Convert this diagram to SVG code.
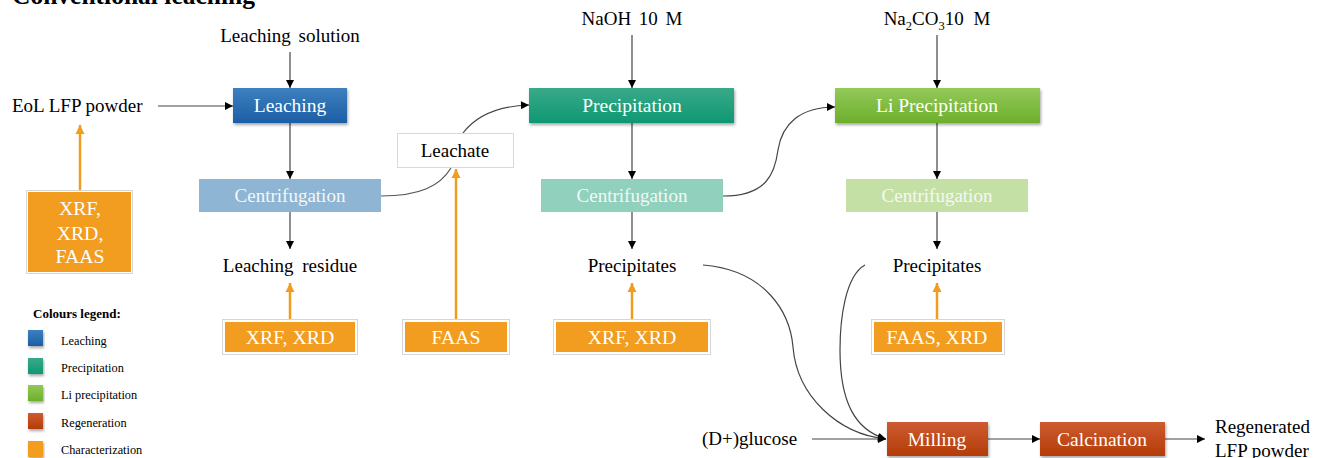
<svg xmlns="http://www.w3.org/2000/svg" width="1317" height="458" viewBox="0 0 1317 458">
  <defs>
    <linearGradient id="gLeach" x1="0" y1="0" x2="0" y2="1">
      <stop offset="0" stop-color="#3d80bf"/>
      <stop offset="1" stop-color="#1c5ea5"/>
    </linearGradient>
    <linearGradient id="gPrec" x1="0" y1="0" x2="0" y2="1">
      <stop offset="0" stop-color="#3aa98a"/>
      <stop offset="1" stop-color="#0e9872"/>
    </linearGradient>
    <linearGradient id="gLi" x1="0" y1="0" x2="0" y2="1">
      <stop offset="0" stop-color="#93c95a"/>
      <stop offset="1" stop-color="#6daf2b"/>
    </linearGradient>
    <linearGradient id="gRegen" x1="0" y1="0" x2="0" y2="1">
      <stop offset="0" stop-color="#cd5b31"/>
      <stop offset="1" stop-color="#b43c08"/>
    </linearGradient>
    <filter id="shadow" x="-10%" y="-20%" width="120%" height="160%">
      <feDropShadow dx="1" dy="2" stdDeviation="1.5" flood-color="#000" flood-opacity="0.35"/>
    </filter>
    <marker id="arrow" markerWidth="10" markerHeight="10" refX="9" refY="5" orient="auto" markerUnits="userSpaceOnUse">
      <path d="M1,1 L9,5 L1,9 Z" fill="#000"/>
    </marker>
    <marker id="arrowOr" markerWidth="12" markerHeight="12" refX="10" refY="6" orient="auto" markerUnits="userSpaceOnUse">
      <path d="M1,1.5 L10,6 L1,10.5 Z" fill="#f09c1e"/>
    </marker>
  </defs>
  <style>
    text { font-family: "Liberation Serif", "Times New Roman", serif; }
    .lbl { font-size: 19px; fill: #000; text-anchor: middle; }
    .lbl-l { font-size: 19px; fill: #000; }
    .box-t { font-size: 19.5px; fill: #fff; text-anchor: middle; }
    .cen-t { font-size: 19px; fill: #f4f8f6; text-anchor: middle; }
    .chr-t { font-size: 19.8px; fill: #fff; text-anchor: middle; }
    .orange { fill: #f29d1f; }
    .orange-frame { fill: #fff; stroke: #d6d6d6; stroke-width: 1; }
    .flow { fill: none; stroke: #444; stroke-width: 1.2; marker-end: url(#arrow); }
    .curve { fill: none; stroke: #555; stroke-width: 1.2; }
    .char { fill: none; stroke: #f09c1e; stroke-width: 2.5; marker-end: url(#arrowOr); }
    .leg-t { font-size: 12.3px; fill: #000; }
  </style>

  <rect width="1317" height="458" fill="#fff"/>

  <!-- title -->
  <text x="12" y="4" font-size="25.5" font-weight="bold">Conventional leaching</text>

  <!-- connectors -->
  <g id="connectors">
    <line class="flow" x1="290" y1="52" x2="290" y2="88"/>
    <line class="flow" x1="158" y1="106" x2="233" y2="106"/>
    <line class="flow" x1="290" y1="123" x2="290" y2="179"/>
    <line class="flow" x1="290" y1="212" x2="290" y2="249"/>
    <path class="curve" d="M381,196 C420,196 440,186 451,168"/>
    <path class="flow" d="M463,133 C476,116 498,106 529,105"/>
    <line class="flow" x1="632" y1="35" x2="632" y2="88"/>
    <line class="flow" x1="632" y1="123" x2="632" y2="179"/>
    <line class="flow" x1="632" y1="212" x2="632" y2="249"/>
    <path class="flow" d="M723,196 C768,196 775,172 778,150 C782,124 800,107 835,107"/>
    <line class="flow" x1="937" y1="35" x2="937" y2="88"/>
    <line class="flow" x1="937" y1="123" x2="937" y2="179"/>
    <line class="flow" x1="937" y1="212" x2="937" y2="249"/>
    <path class="flow" d="M703,265 C765,270 790,312 793,347 C797,396 838,434 886,439"/>
    <path class="flow" d="M865,265 C845,276 840,320 840,350 C840,402 855,430 886,439"/>
    <line class="flow" x1="812" y1="439" x2="886" y2="439"/>
    <line class="flow" x1="988" y1="439" x2="1040" y2="439"/>
    <line class="flow" x1="1165" y1="439" x2="1205" y2="439"/>
    <!-- characterization links -->
    <line class="char" x1="80" y1="191" x2="80" y2="125"/>
    <line class="char" x1="290" y1="320" x2="290" y2="283"/>
    <line class="char" x1="456" y1="320" x2="456" y2="169"/>
    <line class="char" x1="632" y1="320" x2="632" y2="283"/>
    <line class="char" x1="937" y1="320" x2="937" y2="283"/>
  </g>

  <!-- inputs / outputs -->
  <g id="in-leaching-solution"><text class="lbl" x="290" y="42" word-spacing="3">Leaching solution</text></g>
  <g id="in-eol"><text class="lbl-l" x="12" y="112">EoL LFP powder</text></g>
  <g id="in-naoh"><text class="lbl" x="632" y="25" word-spacing="3">NaOH 10 M</text></g>
  <g id="in-na2co3"><text class="lbl" x="937" y="25" word-spacing="5">Na<tspan font-size="12.5" dy="5">2</tspan><tspan dy="-5">CO</tspan><tspan font-size="12.5" dy="5">3</tspan><tspan dy="-5">10 M</tspan></text></g>
  <g id="out-residue"><text class="lbl" x="290" y="272" word-spacing="4">Leaching residue</text></g>
  <g id="out-precip1"><text class="lbl" x="632" y="272">Precipitates</text></g>
  <g id="out-precip2"><text class="lbl" x="937" y="272">Precipitates</text></g>
  <g id="in-glucose"><text class="lbl-l" x="702" y="445">(D+)glucose</text></g>
  <g id="out-regenerated">
    <text class="lbl-l" x="1215" y="433">Regenerated</text>
    <text class="lbl-l" x="1215" y="457">LFP powder</text>
  </g>

  <!-- process steps -->
  <g id="leaching">
    <rect x="233" y="88" width="114" height="35" fill="url(#gLeach)" filter="url(#shadow)"/>
    <text class="box-t" x="290" y="112">Leaching</text>
  </g>
  <g id="centrifugation-1">
    <rect x="199" y="179" width="182" height="33" fill="#8fb5d4"/>
    <text class="cen-t" x="290" y="202">Centrifugation</text>
  </g>
  <g id="leachate">
    <rect x="397.5" y="133.5" width="116" height="34" fill="#fff" stroke="#d9d9d9"/>
    <text class="lbl" x="455" y="157" font-size="18">Leachate</text>
  </g>
  <g id="precipitation">
    <rect x="529" y="88" width="205" height="35" fill="url(#gPrec)" filter="url(#shadow)"/>
    <text class="box-t" x="632" y="112">Precipitation</text>
  </g>
  <g id="centrifugation-2">
    <rect x="541" y="179" width="182" height="33" fill="#90d0bd"/>
    <text class="cen-t" x="632" y="202">Centrifugation</text>
  </g>
  <g id="li-precipitation">
    <rect x="835" y="88" width="205" height="35" fill="url(#gLi)" filter="url(#shadow)"/>
    <text class="box-t" x="937" y="112">Li Precipitation</text>
  </g>
  <g id="centrifugation-3">
    <rect x="846" y="179" width="182" height="33" fill="#c5e0a5"/>
    <text class="cen-t" x="937" y="202">Centrifugation</text>
  </g>
  <g id="milling">
    <rect x="887" y="422" width="101" height="34" fill="url(#gRegen)" filter="url(#shadow)"/>
    <text class="box-t" x="937" y="446">Milling</text>
  </g>
  <g id="calcination">
    <rect x="1040" y="422" width="125" height="34" fill="url(#gRegen)" filter="url(#shadow)"/>
    <text class="box-t" x="1102" y="446">Calcination</text>
  </g>

  <!-- characterization boxes -->
  <g id="char-powder">
    <rect class="orange-frame" x="26.5" y="190.5" width="106" height="83"/>
    <rect class="orange" x="28" y="192" width="103" height="80"/>
    <text class="chr-t" x="80" y="215">XRF,</text>
    <text class="chr-t" x="80" y="240">XRD,</text>
    <text class="chr-t" x="80" y="263">FAAS</text>
  </g>
  <g id="char-residue">
    <rect class="orange-frame" x="222.5" y="319.5" width="135" height="35"/>
    <rect class="orange" x="225" y="322" width="130" height="30"/>
    <text class="chr-t" x="290" y="344">XRF, XRD</text>
  </g>
  <g id="char-leachate">
    <rect class="orange-frame" x="402.5" y="319.5" width="107" height="35"/>
    <rect class="orange" x="405" y="322" width="102" height="30"/>
    <text class="chr-t" x="456" y="344">FAAS</text>
  </g>
  <g id="char-precip1">
    <rect class="orange-frame" x="553.5" y="319.5" width="157" height="35"/>
    <rect class="orange" x="556" y="322" width="152" height="30"/>
    <text class="chr-t" x="632" y="344">XRF, XRD</text>
  </g>
  <g id="char-precip2">
    <rect class="orange-frame" x="871.5" y="319.5" width="133" height="35"/>
    <rect class="orange" x="874" y="322" width="128" height="30"/>
    <text class="chr-t" x="937" y="344">FAAS, XRD</text>
  </g>

  <!-- legend -->
  <g id="legend">
    <text x="33" y="318" font-size="13" font-weight="bold">Colours legend:</text>
    <rect x="28" y="330" width="15" height="16" fill="url(#gLeach)" filter="url(#shadow)"/>
    <text class="leg-t" x="61" y="345">Leaching</text>
    <rect x="28" y="358" width="15" height="16" fill="url(#gPrec)" filter="url(#shadow)"/>
    <text class="leg-t" x="61" y="372">Precipitation</text>
    <rect x="28" y="385" width="15" height="16" fill="url(#gLi)" filter="url(#shadow)"/>
    <text class="leg-t" x="61" y="399">Li precipitation</text>
    <rect x="28" y="413" width="15" height="16" fill="url(#gRegen)" filter="url(#shadow)"/>
    <text class="leg-t" x="61" y="427">Regeneration</text>
    <rect x="28" y="441" width="15" height="16" fill="#f29d1f" filter="url(#shadow)"/>
    <text class="leg-t" x="61" y="454">Characterization</text>
  </g>
</svg>
